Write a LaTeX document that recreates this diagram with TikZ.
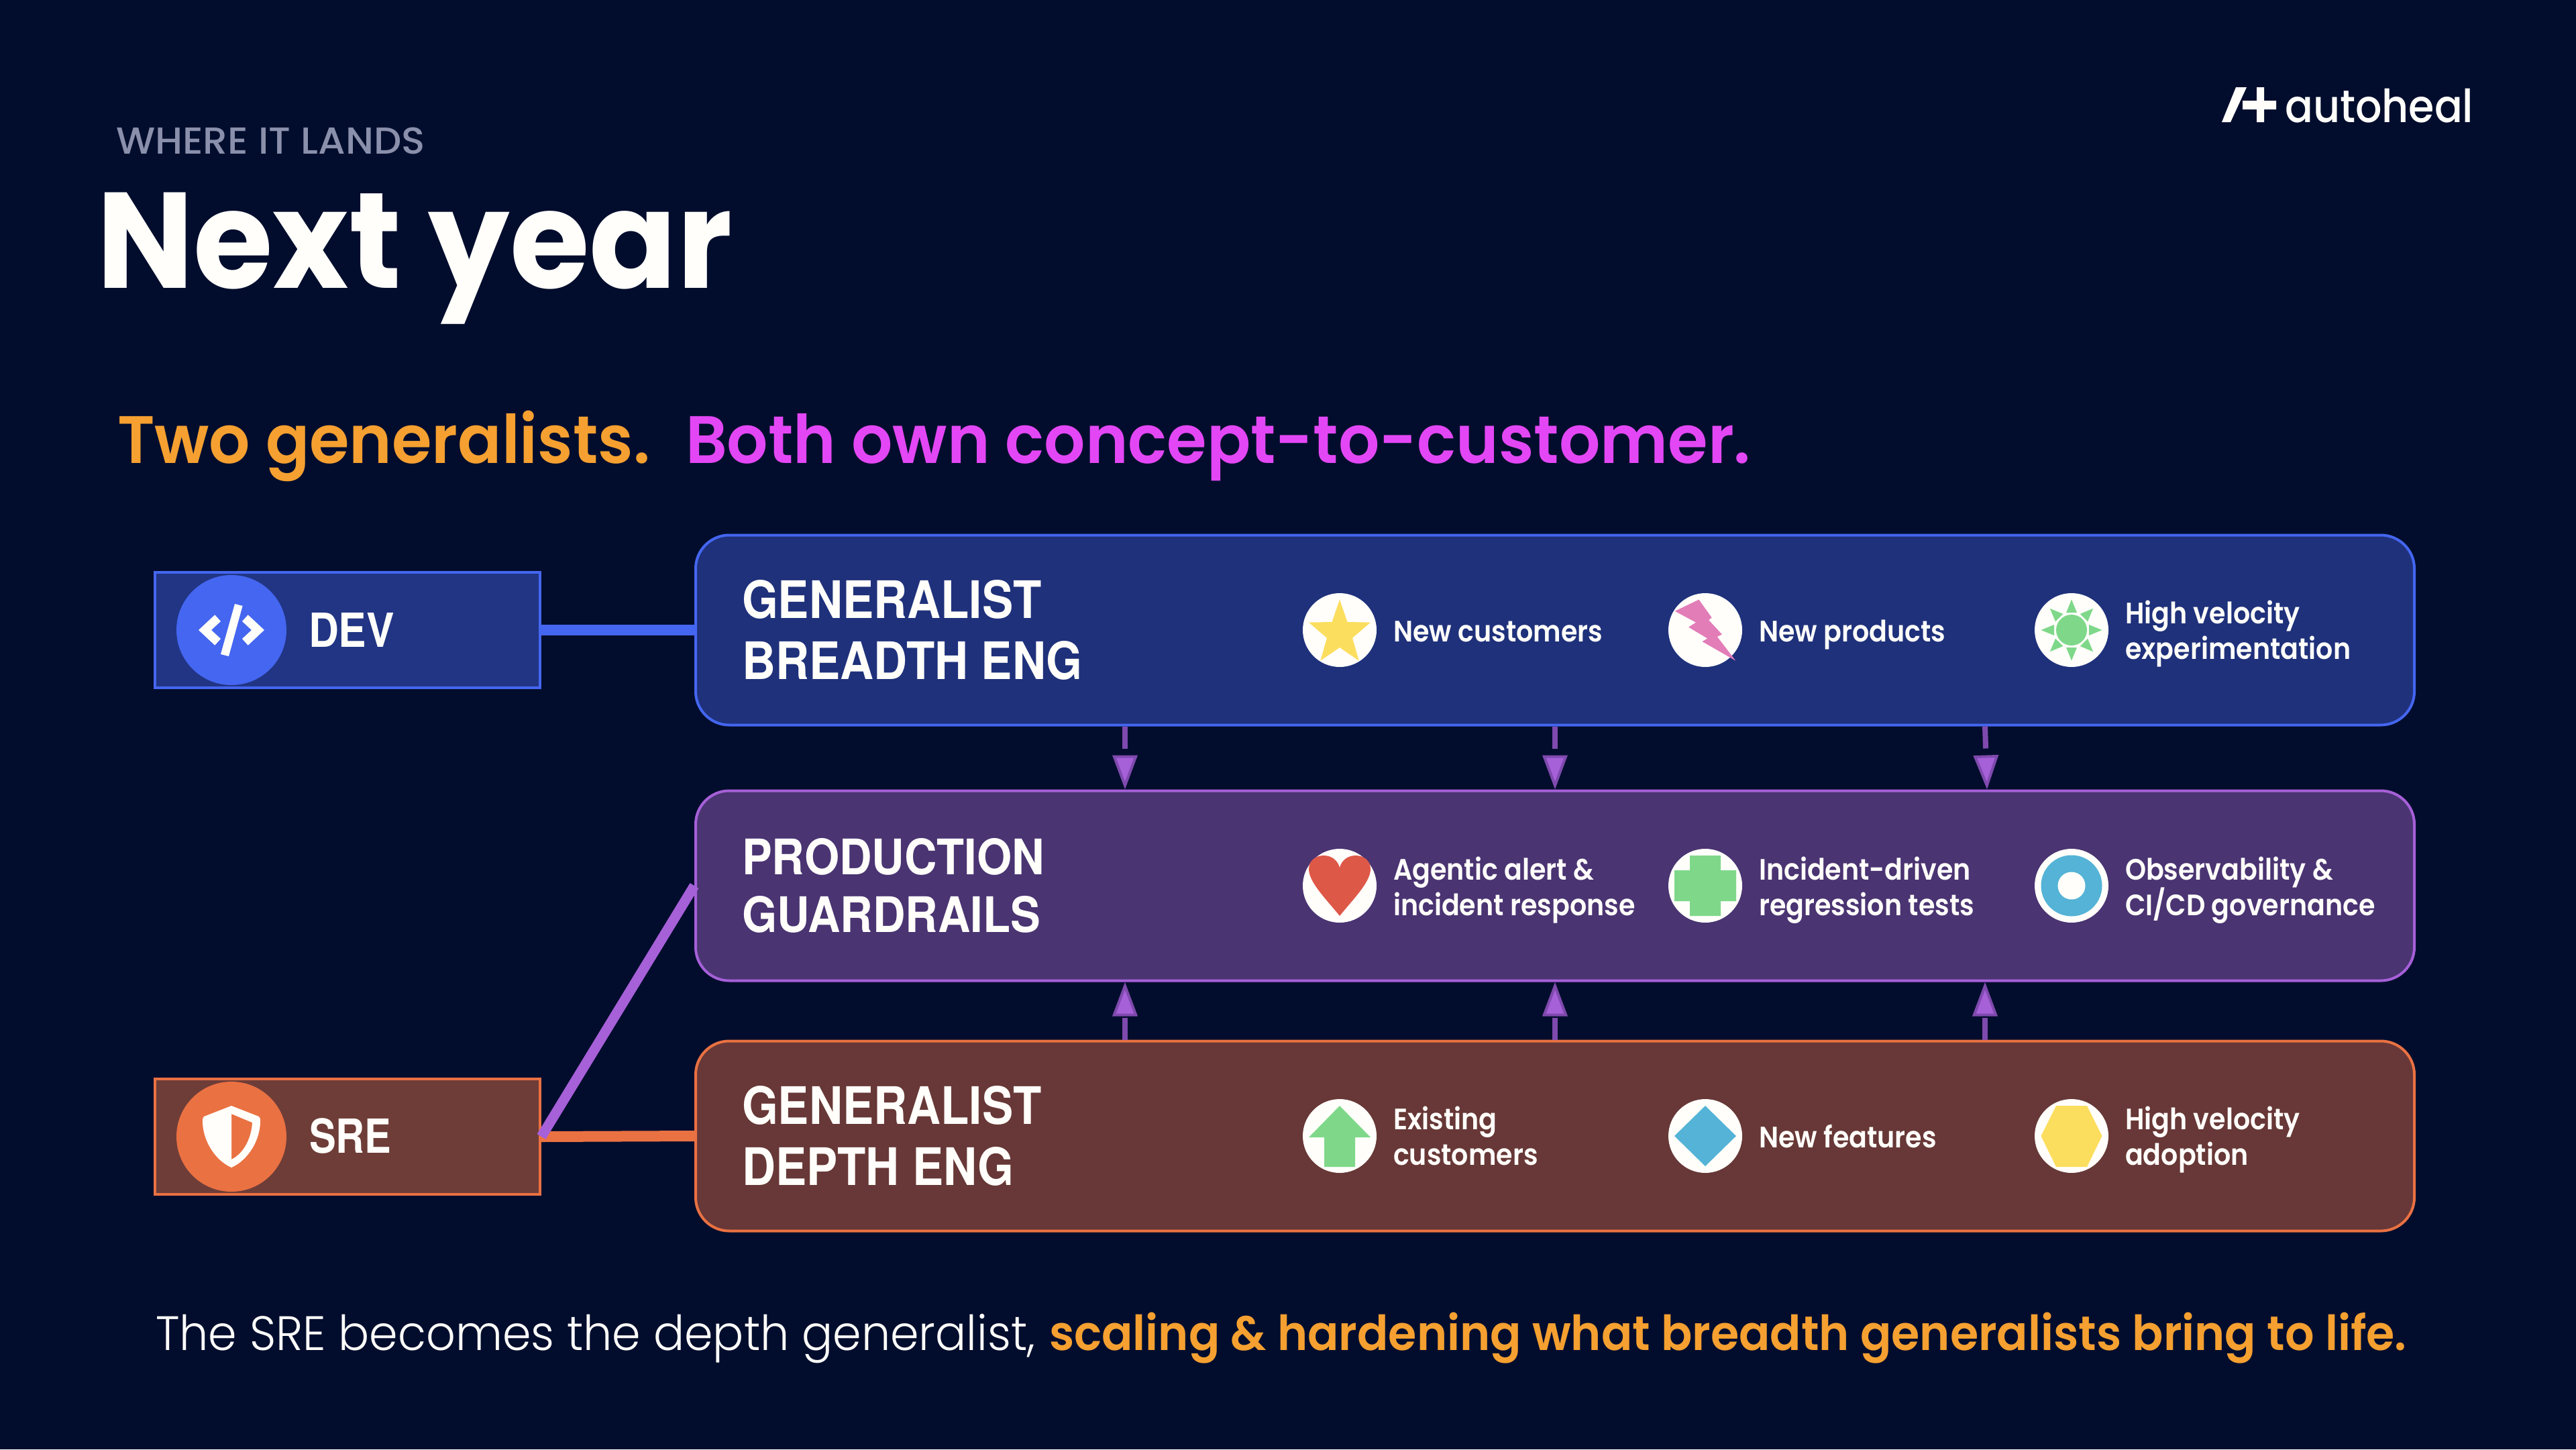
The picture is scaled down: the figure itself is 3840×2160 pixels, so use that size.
\documentclass[tikz,border=0pt]{standalone}
\usepackage{fontspec}
\usetikzlibrary{arrows.meta,calc}
\newfontfamily\ftitle[FakeStretch=0.947]{Poppins Bold}
\newfontfamily\fkick[FakeStretch=1.04]{Poppins Medium}
\newfontfamily\fsub[FakeStretch=0.963]{Poppins SemiBold}
\newfontfamily\flab[FakeStretch=0.90]{TeX Gyre Heros}
\newfontfamily\flabm[FakeStretch=0.92]{TeX Gyre Heros}
\newfontfamily\froled[FakeStretch=0.89]{TeX Gyre Heros}
\newfontfamily\froles[FakeStretch=0.85]{TeX Gyre Heros}
\newfontfamily\fitem[FakeStretch=0.90]{Poppins SemiBold}
\newfontfamily\fsent[FakeStretch=0.95]{Poppins Light}
\newfontfamily\fsentb[FakeStretch=0.95]{Poppins SemiBold}
\newfontfamily\flogo[FakeStretch=0.91]{Poppins Medium}
\definecolor{bgc}{HTML}{020D2D}
\definecolor{bluel}{HTML}{4466F0}
\definecolor{bluef}{HTML}{1F317B}
\definecolor{bluef2}{HTML}{213584}
\definecolor{purl}{HTML}{A660D8}
\definecolor{purf}{HTML}{4A3472}
\definecolor{purd}{HTML}{7F4AAE}
\definecolor{orl}{HTML}{EA7142}
\definecolor{orf}{HTML}{673837}
\definecolor{orf2}{HTML}{6E3D38}
\definecolor{amber}{HTML}{F5A030}
\definecolor{magen}{HTML}{E347F5}
\definecolor{kick}{HTML}{8A90AB}
\definecolor{offw}{HTML}{FFFEFA}
\definecolor{ygold}{HTML}{FCDE5E}
\definecolor{pinki}{HTML}{E27DB8}
\definecolor{greeni}{HTML}{7FD88A}
\definecolor{redi}{HTML}{DE5848}
\definecolor{bluei}{HTML}{54B3D6}
\newcommand\twol[3]{\vtop{\baselineskip=#1pt\lineskiplimit=-200pt\hbox{#2}\hbox{#3}}}
\tikzset{
  txt/.style={anchor=base west,inner sep=0pt,outer sep=0pt,text=offw},
  itemtxt/.style={txt,font=\fitem\fontsize{44pt}{54pt}\selectfont},
  labtxt/.style={txt,font=\flab\bfseries\fontsize{77pt}{91pt}\selectfont},
  labmtxt/.style={txt,font=\flabm\bfseries\fontsize{73pt}{86pt}\selectfont},
  bigbox/.style={rectangle,rounded corners=50pt,line width=4pt,minimum width=2562pt,minimum height=283pt,inner sep=0pt},
  rolebox/.style={rectangle,line width=4pt,minimum width=574pt,minimum height=172pt,inner sep=0pt},
  rolecirc/.style={circle,minimum size=164pt,inner sep=0pt,outer sep=0pt},
  iconbg/.style={circle,fill=offw,minimum size=110pt,inner sep=0pt,outer sep=0pt},
  shaft/.style={purd,line width=8pt,dash pattern=on 33pt off 300pt,
    -{Triangle[length=51pt,width=37pt,line width=4pt,fill=purl,color=purd]}},
}
\begin{document}
\begin{tikzpicture}[x=1pt,y=-1pt]
\useasboundingbox (0,0) rectangle (3840,2160);
\fill[bgc] (0,0) rectangle (3840,2160);

% logo
\fill[offw] (3312,182)--(3333,130)--(3349,130)--(3325,182)--cycle;
\fill[offw] (3364,130)--(3375,130)--(3375,150)--(3393,150)--(3393,163)--(3375,163)--(3375,182)--(3364,182)--(3364,163)--(3343,163)--(3343,150)--(3364,150)--cycle;
\node[txt,font=\flogo\fontsize{68pt}{70pt}\selectfont] (logo) at (3406,182) {autoheal};

% heading
\node[txt,text=kick,font=\fkick\fontsize{56pt}{60pt}\selectfont] (kicker) at (173,229) {WHERE IT LANDS};
\node[txt,font=\ftitle\fontsize{203pt}{210pt}\selectfont] (title) at (144,429) {Next year};
\node[txt,text=amber,font=\fsub\fontsize{100pt}{110pt}\selectfont] (suba) at (175,690) {Two generalists.};
\node[txt,text=magen,font=\fsub\fontsize{100pt}{110pt}\selectfont] (subb) at (1022,690) {Both own concept-to-customer.};

% boxes
\node[bigbox,draw=bluel,fill=bluef] (gen) at (2318,939) {};
\node[bigbox,draw=purl,fill=purf] (mid) at (2318,1320) {};
\node[bigbox,draw=orl,fill=orf] (dep) at (2318,1693) {};
\node[rolebox,draw=bluel,fill=bluef2] (dev) at (518,939) {};
\node[rolebox,draw=orl,fill=orf2] (sre) at (518,1694) {};

% role connectors
\draw[bluel,line width=16pt] (dev.east) -- (gen.west);
\draw[orl,line width=16pt] (sre.east) -- (dep.west);
\draw[purl,line width=15pt] (sre.east) -- (mid.west);

% flow arrows
\coordinate (xa) at (1677,0);
\coordinate (xb) at (2318,0);
\coordinate (xc) at (2959,0);
\coordinate (xd) at (2962,0);
\draw[shaft] (xa |- gen.south) -- (xa |- mid.north);
\draw[shaft] (xb |- gen.south) -- (xb |- mid.north);
\draw[shaft] (xc |- gen.south) -- (xd |- mid.north);
\draw[shaft] (xa |- dep.north) -- (xa |- mid.south);
\draw[shaft] (xb |- dep.north) -- (xb |- mid.south);
\draw[shaft] (xc |- dep.north) -- (xc |- mid.south);

% role circles
\node[rolecirc,fill=bluel] (devc) at (345,939) {};
\node[rolecirc,fill=orl] (srec) at (345,1694) {};
\begin{scope}[shift={(345,939)}]
\fill[offw] (-24.7,-22.7)--(-16,-13)--(-30,0)--(-16,13)--(-24.7,22.7)--(-49,0)--cycle;
\fill[offw] (24.7,-22.7)--(16,-13)--(30,0)--(16,13)--(24.7,22.7)--(49,0)--cycle;
\fill[offw] (5,-39)--(16.6,-36)--(-4,39)--(-16,36)--cycle;
\end{scope}
\begin{scope}[shift={(345,1694)}]
\fill[offw,even odd rule]
 (0,-46)--(41,-30)..controls (43,-28) and (43,-26)..(43,-23)..controls (43,5) and (25,35)..(0,46)
 ..controls (-25,35) and (-43,5)..(-43,-23)..controls (-43,-26) and (-43,-28)..(-41,-30)--cycle
 (0,-34)--(31,-21)..controls (30,0) and (20,24)..(0,34)--cycle;
\end{scope}
\node[txt,font=\froled\bfseries\fontsize{70pt}{80pt}\selectfont] (devt) at (460,964) {DEV};
\node[txt,font=\froles\bfseries\fontsize{70pt}{80pt}\selectfont] (sret) at (461,1718) {SRE};

% box labels
\node[labtxt] (l1) at (1106,921) {\twol{91}{GENERALIST}{BREADTH ENG}};
\node[labmtxt] (l2) at (1106,1303) {\twol{86}{PRODUCTION}{GUARDRAILS}};
\node[labtxt] (l3) at (1106,1675) {\twol{91}{GENERALIST}{DEPTH ENG}};

% icon discs
\node[iconbg] (i1) at (1997,939) {};
\node[iconbg] (i2) at (2542,939) {};
\node[iconbg] (i3) at (3088,939) {};
\node[iconbg] (i4) at (1997,1320) {};
\node[iconbg] (i5) at (2542,1320) {};
\node[iconbg] (i6) at (3088,1320) {};
\node[iconbg] (i7) at (1997,1693) {};
\node[iconbg] (i8) at (2542,1693) {};
\node[iconbg] (i9) at (3088,1693) {};

% star
\begin{scope}[shift={(1997,939)}]
\fill[ygold] (0,-45.4)--(11.5,-12)--(46,-11.4)--(19,11.8)--(28.7,45.7)--(0,26)--(-28.7,45.7)--(-19,11.8)--(-46,-11.4)--(-11.5,-12)--cycle;
\end{scope}
% bolt
\begin{scope}[shift={(2542,939)}]
\fill[pinki] (-9.6,-45.4)--(9.6,-18.6)--(5.1,-15)--(24.9,6.4)--(17.9,10)--(45.3,45.7)--(-4.5,17.1)--(3.2,12.5)--(-24.9,-4.3)--(-14,-11.4)--(-45.3,-28.2)--cycle;
\end{scope}
% sun
\begin{scope}[shift={(3088,939)}]
\fill[greeni] (0,0) circle (23);
\foreach \a in {0,45,...,315}{
  \fill[greeni,rotate=\a] (-8,-26)--(8,-26)--(0,-45.5)--cycle;
}
\end{scope}
% heart
\begin{scope}[shift={(1997,1320)}]
\fill[redi] (0,45)..controls (-20,20) and (-46,-5)..(-46,-25)..controls (-46,-38) and (-35,-45)..(-24,-45)..controls (-12,-45) and (-3,-38)..(0,-27)
 ..controls (3,-38) and (12,-45)..(24,-45)..controls (35,-45) and (46,-38)..(46,-25)..controls (46,-5) and (20,20)..(0,45)--cycle;
\end{scope}
% cross
\begin{scope}[shift={(2542,1320)}]
\fill[greeni] (-23,-45)--(23,-45)--(23,-23)--(46,-23)--(46,23)--(23,23)--(23,45)--(-23,45)--(-23,23)--(-46,23)--(-46,-23)--(-23,-23)--cycle;
\end{scope}
% target
\begin{scope}[shift={(3088,1320)}]
\fill[bluei] (0,0) circle (45.5);
\fill[offw] (0,0) circle (20.5);
\end{scope}
% up arrow
\begin{scope}[shift={(1997,1693)}]
\fill[greeni] (0,-45)--(46,2)--(23,2)--(23,46)--(-23,46)--(-23,2)--(-46,2)--cycle;
\end{scope}
% diamond
\begin{scope}[shift={(2542,1693)}]
\fill[bluei] (0,-45)--(46,0)--(0,45)--(-46,0)--cycle;
\end{scope}
% hexagon
\begin{scope}[shift={(3088,1693)}]
\fill[ygold] (-23,-45)--(23,-45)--(45.5,0)--(23,46)--(-23,46)--(-45.5,0)--cycle;
\end{scope}

% item text
\node[itemtxt] (t1) at (2077,956) {New customers};
\node[itemtxt] (t2) at (2622,956) {New products};
\node[itemtxt] (t3) at (3168,929) {\twol{53.6}{High velocity}{experimentation}};
\node[itemtxt] (t4) at (2077,1311) {\twol{53.6}{Agentic alert \&}{incident response}};
\node[itemtxt] (t5) at (2622,1311) {\twol{53.6}{Incident-driven}{regression tests}};
\node[itemtxt] (t6) at (3168,1311) {\twol{53.6}{Observability \&}{CI/CD governance}};
\node[itemtxt] (t7) at (2077,1683) {\twol{53.6}{Existing}{customers}};
\node[itemtxt] (t8) at (2622,1710) {New features};
\node[itemtxt] (t9) at (3168,1683) {\twol{53.6}{High velocity}{adoption}};

% sentence
\node[txt,font=\fsent\fontsize{72pt}{80pt}\selectfont] (sa) at (232,2012) {The SRE becomes the depth generalist,};
\node[txt,text=amber,font=\fsentb\fontsize{72pt}{80pt}\selectfont] (sb) at (1564,2012) {scaling \& hardening what breadth generalists bring to life.};
\end{tikzpicture}
\end{document}
